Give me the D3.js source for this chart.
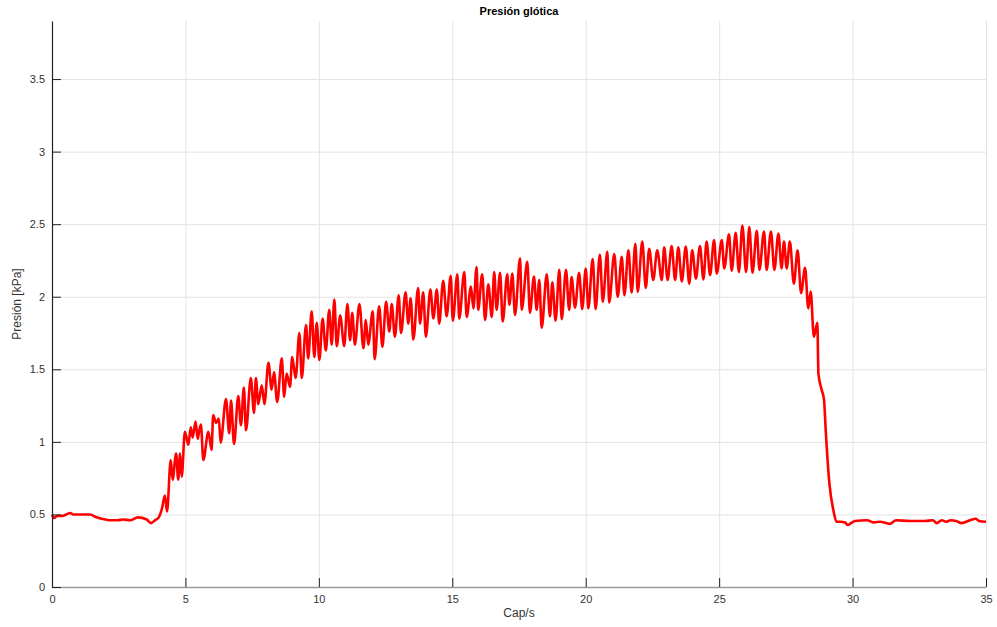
<!DOCTYPE html>
<meta charset="utf-8">
<script src="https://cdn.jsdelivr.net/npm/d3@7"></script>
<style>
body { margin: 0; background: #fff; }
text { font-family: "Liberation Sans", Arial, sans-serif; }
.grid line { stroke: #e3e3e3; stroke-width: 1px; }
.grid path { display: none; }
.axis text { font-size: 11px; fill: #333; }
#presion { fill: none; stroke: #ff0000; stroke-width: 2.6px; stroke-linejoin: round; }
</style>
<body>
<div id="chart"></div>
<script>
// values, split by phase
var preT = [0,0.08,0.19,0.4,0.68,0.8,0.97,1.2,1.42,1.67,2.0,2.2,2.45,2.67,2.92,3.22,3.55,3.71,3.86,4.0,4.12]
var preP = [0.50,0.475,0.49,0.49,0.51,0.50,0.50,0.50,0.50,0.48,0.465,0.46,0.46,0.465,0.46,0.48,0.465,0.44,0.46,0.48,0.54]

var riseT = [4.23,4.31,4.45,4.52,4.65,4.73,4.80,4.86,4.98,5.11,5.20,5.27,5.38,5.46,5.52,5.58,5.67,5.86,5.98,6.04,
             6.15,6.25,6.32,6.52,6.64,6.71,6.82,6.98,7.08,7.19,7.27,7.45,7.57,7.64,7.73,7.86,7.96,8.11,8.23,8.32,
             8.44,8.61,8.70,8.79,8.92,9.00,9.13,9.27,9.36]
var riseP = [0.63,0.52,0.875,0.74,0.92,0.74,0.92,0.76,1.07,0.98,1.10,1.03,1.14,1.02,1.08,1.12,0.875,1.07,0.945,1.185,
             1.13,1.16,0.995,1.295,1.06,1.285,0.985,1.315,1.115,1.375,1.08,1.44,1.20,1.44,1.26,1.39,1.26,1.545,1.36,1.48,
             1.275,1.575,1.31,1.47,1.38,1.585,1.44,1.75,1.44]

var mid1T = [9.52,9.60,9.73,9.83,9.92,10.02,10.14,10.26,10.39,10.48,10.58,10.67,10.80,10.95,11.07,11.17,11.25,11.35,11.52,11.67,
             11.76,11.85,12.02,12.09,12.26,12.38,12.52,12.64,12.73,12.85,12.99,13.08,13.25,13.35,13.44,13.54,13.72,13.79,13.91,14.01,
             14.18,14.29,14.42,14.51,14.66,14.79,14.94,15.02,15.19,15.26,15.45,15.54,15.70,15.79,15.91,15.97,16.12,16.23,16.35,16.48,
             16.57,16.66,16.79,16.89,17.06,17.14,17.25,17.35]
var mid1P = [1.805,1.575,1.90,1.585,1.82,1.565,1.85,1.63,1.91,1.67,1.98,1.66,1.87,1.66,1.95,1.70,1.89,1.67,1.95,1.645,
             1.84,1.67,1.90,1.57,1.935,1.655,1.965,1.76,1.95,1.725,2.01,1.75,2.03,1.815,1.99,1.705,2.06,1.815,2.03,1.725,
             2.05,1.85,2.05,1.815,2.11,1.865,2.145,1.835,2.155,1.85,2.17,1.86,2.07,1.92,2.205,1.91,2.155,1.84,2.085,1.86,
             2.17,1.91,2.165,1.83,2.155,1.945,2.16,1.875]

var mid2T = [17.54,17.60,17.81,17.91,18.06,18.16,18.26,18.35,18.54,18.66,18.75,18.87,19.01,19.10,19.26,19.38,19.47,19.60,19.75,19.87,
             20.00,20.10,20.26,20.37,20.53,20.64,20.81,20.88,21.07,21.20,21.35,21.45,21.60,21.72,21.86,21.95,22.12,22.25,22.38,22.53,
             22.68,22.85,22.94,23.07,23.22,23.35,23.47,23.60,23.75,23.88,23.99,24.13,24.28,24.41,24.53,24.66,24.81,24.91,25.10,25.19,
             25.37,25.47,25.62,25.74]
var mid2P = [2.265,1.91,2.24,1.89,2.14,1.91,2.115,1.787,2.155,1.865,2.10,1.835,2.185,1.845,2.185,1.91,2.135,1.925,2.165,1.915,
             2.195,1.92,2.26,1.915,2.29,1.965,2.31,1.96,2.295,2.0,2.275,2.01,2.32,2.03,2.365,2.035,2.38,2.06,2.33,2.115,
             2.32,2.115,2.34,2.115,2.35,2.115,2.34,2.105,2.345,2.09,2.32,2.125,2.35,2.12,2.38,2.15,2.39,2.16,2.39,2.195,
             2.43,2.18,2.44,2.17]

var fallT = [25.87,26.01,26.13,26.25,26.41,26.51,26.68,26.78,26.94,27.07,27.22,27.34,27.43,27.53,27.65,27.80,27.94,28.07,28.22,28.34,
             28.43,28.55,28.68,28.72,28.84,28.93,29.00,29.13,29.28,29.40]
var fallP = [2.49,2.17,2.48,2.165,2.455,2.185,2.45,2.185,2.45,2.185,2.435,2.195,2.38,2.195,2.38,2.09,2.32,2.025,2.20,1.92,
             2.035,1.725,1.82,1.47,1.36,1.29,1.06,0.715,0.53,0.45]

var postT = [29.55,29.72,29.82,29.94,30.09,30.54,30.80,31.03,31.40,31.63,32.15,32.71,33.01,33.15,33.34,33.50,33.68,33.88,34.09,34.40,
             34.61,34.74,35.0]
var postP = [0.45,0.445,0.427,0.44,0.455,0.46,0.445,0.45,0.435,0.46,0.455,0.455,0.46,0.44,0.46,0.45,0.46,0.455,0.44,0.46,
             0.47,0.455,0.45]

var xTicks = [0,5,10,15,20,25,30,35]
var yTicks = [0,0.5,1,1.5,2,2.5,3,3.5]

var tAll = preT.concat(riseT, mid1T, mid2T, fallT, postT)
var pAll = preP.concat(riseP, mid1P, mid2P, fallP, postP)
var data = tAll.map(function(t, i){ return {t: t, p: pAll[i]} })

margin = {top: 21, right: 11, bottom: 40, left: 52}
width = 997 - margin.left - margin.right
height = 627 - margin.top - margin.bottom

svg = d3.select('#chart').append('svg')
        .attr('width', 997)
        .attr('height', 627)

g = svg.append('g')
       .attr('transform', 'translate(' + margin.left + ',' + margin.top + ')')

xScale = d3.scaleLinear().domain([0, 35]).range([0, width])
yScale = d3.scaleLinear().domain([0, 3.9]).range([height, 0])

// grid
g.append('g').attr('class', 'grid')
  .attr('transform', 'translate(0,' + height + ')')
  .call(d3.axisBottom(xScale).tickValues(xTicks).tickSize(-height).tickFormat(''))
g.append('g').attr('class', 'grid')
  .call(d3.axisLeft(yScale).tickValues(yTicks).tickSize(-width).tickFormat(''))

line = d3.line()
  .curve(d3.curveMonotoneX)
  .x(function(d){ return xScale(d.t) })
  .y(function(d){ return yScale(d.p) })

g.append('path').datum(data).attr('id', 'presion').attr('d', line)

// axes, ticks pointing inward
xAxis = g.append('g').attr('class', 'axis')
  .attr('transform', 'translate(0,' + height + ')')
  .call(d3.axisBottom(xScale).tickValues(xTicks).tickSizeInner(-9).tickSizeOuter(0).tickPadding(8))
xAxis.select('path').attr('stroke', '#9a9a9a').attr('stroke-width', 1.5)
xAxis.selectAll('line').attr('stroke', '#222')

yAxis = g.append('g').attr('class', 'axis')
  .call(d3.axisLeft(yScale).tickValues(yTicks).tickSizeInner(-9).tickSizeOuter(0).tickPadding(7)
        .tickFormat(function(d){ return d3.format('')(d) }))
yAxis.select('path').attr('stroke', '#222').attr('stroke-width', 1.2)
yAxis.selectAll('line').attr('stroke', '#222')

svg.append('text')
  .attr('x', margin.left + width / 2)
  .attr('y', 15)
  .attr('text-anchor', 'middle')
  .style('font-size', '11px')
  .style('font-weight', 'bold')
  .text('Presión glótica')

svg.append('text')
  .attr('x', margin.left + width / 2)
  .attr('y', 617)
  .attr('text-anchor', 'middle')
  .style('font-size', '12px')
  .attr('fill', '#333')
  .text('Cap/s')

svg.append('text')
  .attr('transform', 'translate(21,' + (margin.top + height / 2) + ') rotate(-90)')
  .attr('text-anchor', 'middle')
  .style('font-size', '12px')
  .attr('fill', '#333')
  .text('Presión [kPa]')
</script>
</body>
</html>
